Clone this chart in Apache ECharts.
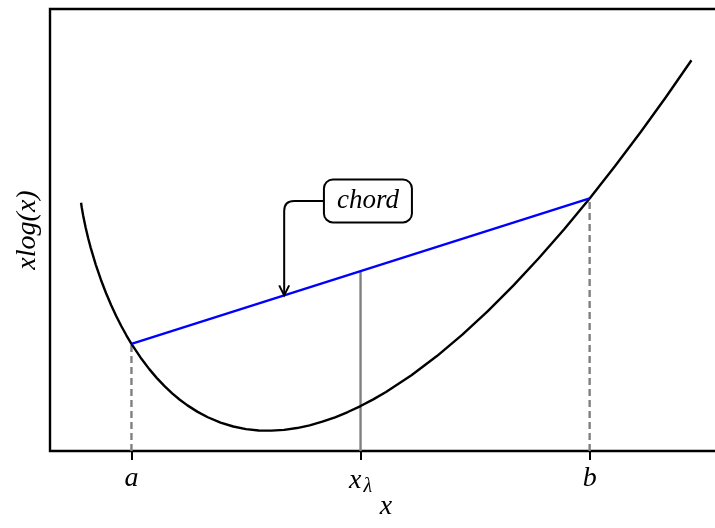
<!DOCTYPE html>
<html>
<head>
<meta charset="utf-8">
<script src="https://cdn.jsdelivr.net/npm/echarts@6/dist/echarts.min.js"></script>
<style>
  html, body { margin: 0; padding: 0; background: #fff; }
  #chart { width: 715px; height: 528px; }
</style>
</head>
<body>
<div id="chart"></div>
<script>
// Samples of f(x) = x·log(x)
const curveX = [0.001, 0.0025, 0.005, 0.01, 0.015, 0.02, 0.03, 0.04, 0.05, 0.06, 0.07, 0.08, 0.09,
                0.1, 0.12, 0.135, 0.15, 0.165, 0.18, 0.195, 0.21, 0.23, 0.25, 0.275,
                0.3, 0.325, 0.35, 0.375, 0.4, 0.425, 0.45, 0.475, 0.5, 0.525, 0.55, 0.575,
                0.6, 0.65, 0.7, 0.75, 0.8, 0.85, 0.9, 0.95, 1.0, 1.05, 1.1, 1.15, 1.2];
const curveY = [-0.006908, -0.014979, -0.026492, -0.046052, -0.062996, -0.078241, -0.105197, -0.128755,
                -0.149787, -0.168806, -0.186148, -0.202057, -0.216715,
                -0.230259, -0.254432, -0.270335, -0.284568, -0.297299, -0.308664, -0.318777, -0.327736,
                -0.338025, -0.346574, -0.355021,
                -0.361192, -0.365277, -0.367438, -0.367811, -0.366516, -0.363658, -0.359329, -0.353609,
                -0.346574, -0.338287, -0.328810, -0.318196,
                -0.306495, -0.280009, -0.249672, -0.215762, -0.178515, -0.138141, -0.094825, -0.048729,
                0.0, 0.051230, 0.104841, 0.160726, 0.218786];

// Chord between a and b
const chordX = [0.1, 1.0];
const chordY = [-0.230259, 0.0];

// x_λ = λa + (1-λ)b with λ = 0.5, and the chord height there
const xLambda = 0.55;
const chordAtLambda = -0.115129;

// Axis ticks
const tickValues = [0.1, 0.55, 1.0];
const tickLabels = ['a', 'x_λ', 'b'];

// Annotation: arrow tip on the chord and the label position
const arrowTip = [0.4, -0.153506];
const noteAnchor = [0.5645, -0.004];
const noteText = 'chord';

const yBottom = -0.4;
const serif = '"Liberation Serif", "DejaVu Serif", serif';

const chart = echarts.init(document.getElementById('chart'), null, { renderer: 'canvas' });

function vline(x, yTop, dashed) {
  return {
    type: 'line',
    data: [[x, yBottom], [x, yTop]],
    showSymbol: false,
    silent: true,
    z: 1,
    lineStyle: { color: '#808080', width: 2.4, type: dashed ? [7, 4] : 'solid' }
  };
}

chart.setOption({
  animation: false,
  backgroundColor: '#fff',
  grid: {
    show: true,
    outerBoundsMode: 'none',
    containLabel: false,
    left: 50, top: 9, width: 672, height: 442,
    borderColor: '#000', borderWidth: 2.4,
    backgroundColor: 'transparent'
  },
  xAxis: {
    type: 'value',
    min: -0.06, max: 1.26,
    splitLine: { show: false },
    axisLine: { show: false, onZero: false },
    axisTick: {
      show: true, customValues: tickValues, length: 9,
      lineStyle: { color: '#000', width: 2 }
    },
    axisLabel: {
      show: true, customValues: tickValues, margin: 14,
      formatter: function (v) {
        const i = tickValues.findIndex(t => Math.abs(t - v) < 1e-9);
        if (i < 0) return '';
        const lab = tickLabels[i];
        if (lab.indexOf('_') >= 0) {
          const p = lab.split('_');
          return '{m|' + p[0] + '}{s|' + p[1] + '}';
        }
        return '{m|' + lab + '}';
      },
      rich: {
        m: { fontFamily: serif, fontStyle: 'italic', fontSize: 28, color: '#000' },
        s: { fontFamily: serif, fontStyle: 'italic', fontSize: 20, color: '#000', padding: [12, 0, 0, 2] }
      }
    },
    name: 'x',
    nameLocation: 'middle',
    nameGap: 42,
    nameMoveOverlap: false,
    nameTextStyle: { fontFamily: serif, fontStyle: 'italic', fontSize: 28, color: '#000' }
  },
  yAxis: {
    type: 'value',
    min: yBottom, max: 0.3,
    splitLine: { show: false },
    axisLine: { show: false, onZero: false },
    axisTick: { show: false },
    axisLabel: { show: false },
    name: 'xlog(x)',
    nameLocation: 'middle',
    nameRotate: 90,
    nameGap: 8,
    nameMoveOverlap: false,
    nameTextStyle: { fontFamily: serif, fontStyle: 'italic', fontSize: 28, color: '#000' }
  },
  series: [
    vline(chordX[0], chordY[0], true),
    vline(chordX[1], chordY[1], true),
    vline(xLambda, chordAtLambda, false),
    {
      type: 'line',
      data: curveX.map((x, i) => [x, curveY[i]]),
      showSymbol: false,
      silent: true,
      z: 3,
      lineStyle: { color: '#000', width: 2.4 }
    },
    {
      type: 'line',
      data: chordX.map((x, i) => [x, chordY[i]]),
      showSymbol: false,
      silent: true,
      z: 4,
      lineStyle: { color: '#0000ff', width: 2.4 }
    },
    {
      type: 'custom',
      coordinateSystem: 'cartesian2d',
      clip: false,
      silent: true,
      z: 5,
      data: [[noteAnchor[0], noteAnchor[1]]],
      renderItem: function (params, api) {
        const tip = api.coord(arrowTip);
        const anc = api.coord(noteAnchor);
        const r = 10;
        const y = anc[1];
        const startX = anc[0] - 42;
        return {
          type: 'group',
          children: [
            {
              type: 'path',
              shape: {
                pathData: 'M' + startX + ' ' + y + ' L' + (tip[0] + r) + ' ' + y +
                          ' Q' + tip[0] + ' ' + y + ' ' + tip[0] + ' ' + (y + r) +
                          ' L' + tip[0] + ' ' + tip[1]
              },
              style: { stroke: '#000', lineWidth: 2, fill: null }
            },
            {
              type: 'polyline',
              shape: { points: [[tip[0] - 5, tip[1] - 10], [tip[0], tip[1]], [tip[0] + 5, tip[1] - 10]] },
              style: { stroke: '#000', lineWidth: 2, fill: null }
            },
            {
              type: 'text',
              x: anc[0], y: anc[1],
              style: {
                text: noteText,
                font: 'italic 27px ' + serif,
                fill: '#000',
                align: 'center',
                verticalAlign: 'middle',
                backgroundColor: '#fff',
                borderColor: '#000',
                borderWidth: 2,
                borderRadius: 8,
                padding: [7, 12, 7, 12]
              }
            }
          ]
        };
      }
    }
  ]
});
</script>
</body>
</html>
